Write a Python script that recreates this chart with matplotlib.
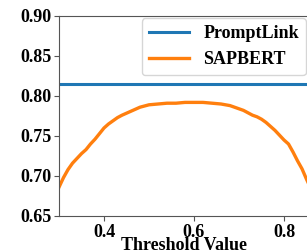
import numpy as np
import matplotlib.pyplot as plt

plt.rcParams['font.family'] = ['Liberation Serif', 'DejaVu Serif']
plt.rcParams['font.weight'] = 'bold'

# values
thresholds = [0.30, 0.31, 0.32, 0.33, 0.34, 0.35, 0.36, 0.37, 0.38, 0.39, 0.40,
              0.41, 0.42, 0.43, 0.44, 0.46, 0.48, 0.50, 0.52, 0.54, 0.56, 0.58,
              0.60, 0.62, 0.64, 0.66, 0.68, 0.70, 0.71, 0.72, 0.73, 0.74, 0.75,
              0.76, 0.77, 0.78, 0.79, 0.80, 0.81, 0.82, 0.83, 0.84, 0.85, 0.86]
sapbert = [0.686, 0.698, 0.708, 0.716, 0.722, 0.728, 0.733, 0.740, 0.746, 0.753, 0.760,
           0.765, 0.769, 0.773, 0.776, 0.781, 0.786, 0.789, 0.790, 0.791, 0.791, 0.792,
           0.792, 0.792, 0.791, 0.790, 0.788, 0.784, 0.782, 0.779, 0.776, 0.774, 0.771,
           0.767, 0.762, 0.757, 0.751, 0.745, 0.740, 0.730, 0.719, 0.709, 0.696, 0.684]
promptlink = 0.815

xticks = [0.4, 0.6, 0.8]
yticks = [0.65, 0.70, 0.75, 0.80, 0.85, 0.90]

fig = plt.figure(figsize=(3.07, 2.52), dpi=100)
ax = fig.add_axes([59/307, 36/252, 270/307, 200/252])

ax.axhline(promptlink, color='#1f77b4', lw=2.2, label='PromptLink')
ax.plot(thresholds, sapbert, color='#ff7f0e', lw=2.4, label='SAPBERT')

ax.set_xlim(0.3, 0.9)
ax.set_ylim(0.65, 0.90)
ax.set_xticks(xticks)
ax.set_xticklabels(['%.1f' % t for t in xticks])
ax.set_yticks(yticks)
ax.set_yticklabels(['%.2f' % t for t in yticks])
ax.tick_params(labelsize=13, color='#555555', length=3.5, pad=2)
for s in ax.spines.values():
    s.set_color('#555555')
ax.set_xlabel('Threshold Value', fontsize=13, fontweight='bold', va='baseline')
ax.xaxis.set_label_coords(0.463, -0.172)

ax.legend(loc='upper right', bbox_to_anchor=(306/307, 1 - 18/252),
          bbox_transform=fig.transFigure, borderaxespad=0,
          prop={'size': 13, 'weight': 'bold'}, handlelength=2.2)

fig.savefig('out.png', dpi=100)
